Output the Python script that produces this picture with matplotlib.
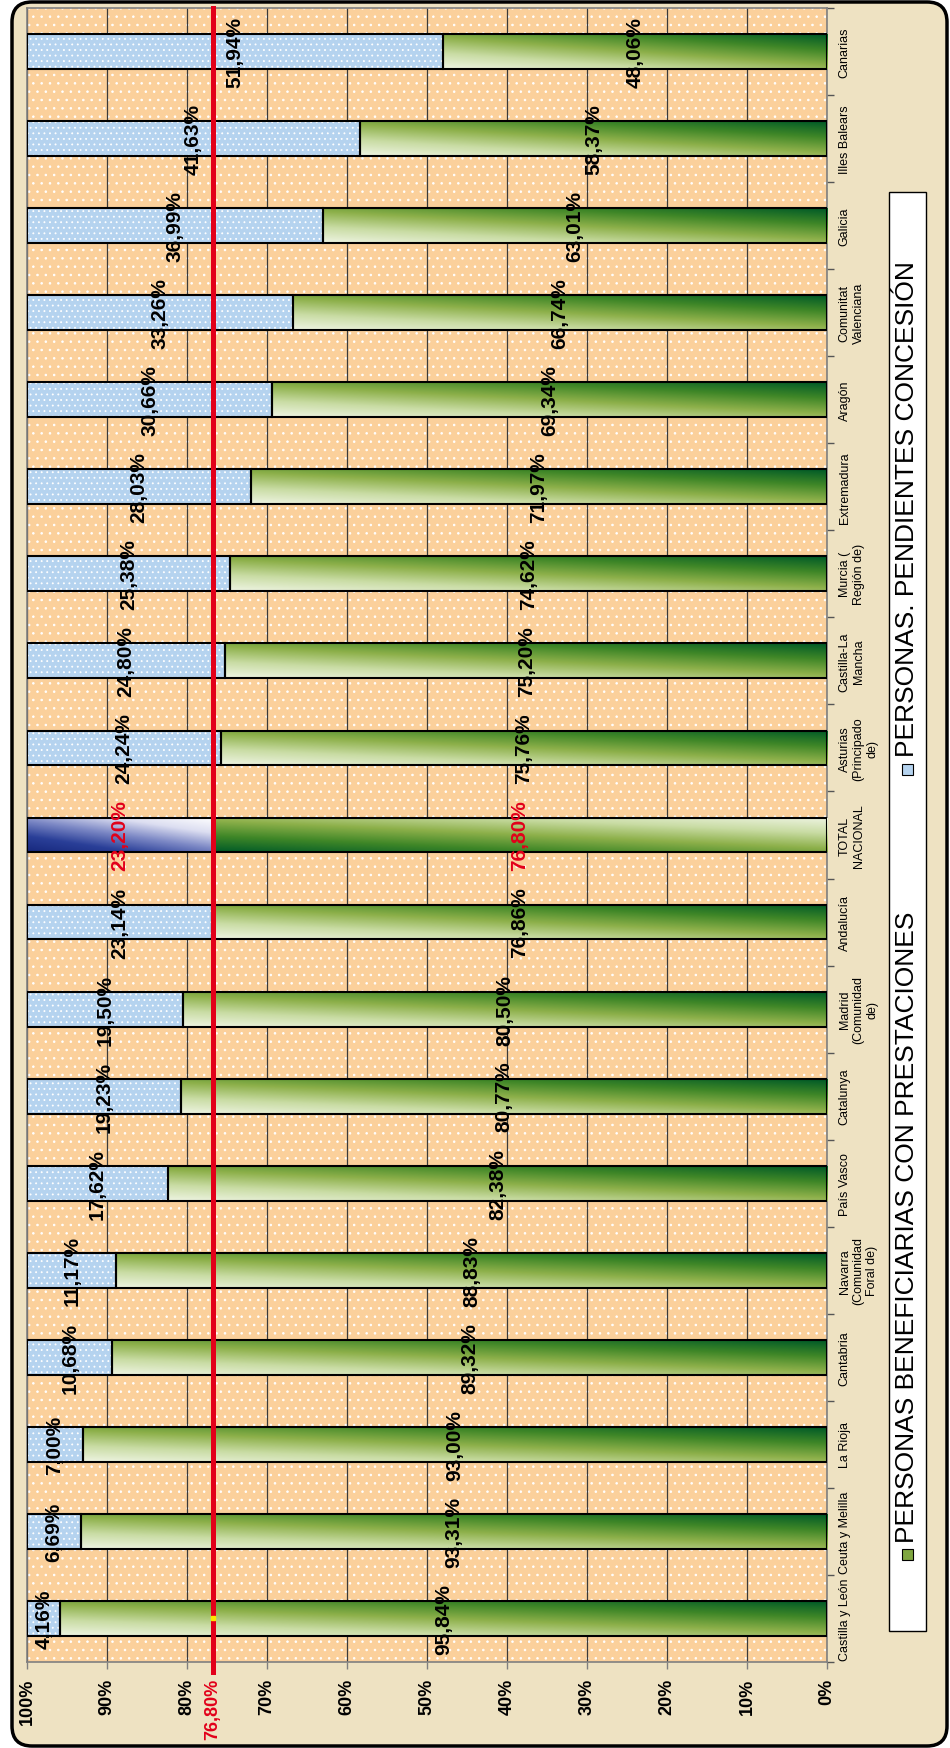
import numpy as np
import matplotlib
matplotlib.use('Agg')
import matplotlib.pyplot as plt
from matplotlib.colors import LinearSegmentedColormap
from matplotlib.patches import Rectangle, FancyBboxPatch

plt.rcParams['font.family'] = ['Liberation Sans', 'DejaVu Sans']
plt.rcParams['hatch.linewidth'] = 0.6
plt.rcParams['hatch.color'] = 'white'

# Datos por comunidad (de abajo a arriba en el grafico girado).
regiones = ['Castilla y León', 'Ceuta y Melilla', 'La Rioja', 'Cantabria',
            'Navarra\n(Comunidad\nForal de)', 'País Vasco', 'Catalunya',
            'Madrid\n(Comunidad\nde)', 'Andalucía', 'TOTAL\nNACIONAL',
            'Asturias\n(Principado\nde)', 'Castilla-La\nMancha', 'Murcia (\nRegión de)',
            'Extremadura', 'Aragón', 'Comunitat\nValenciana', 'Galicia',
            'Illes Balears', 'Canarias']
beneficiarias = [95.84, 93.31, 93.00, 89.32, 88.83, 82.38, 80.77, 80.50, 76.86, 76.80,
                 75.76, 75.20, 74.62, 71.97, 69.34, 66.74, 63.01, 58.37, 48.06]
pendientes = [4.16, 6.69, 7.00, 10.68, 11.17, 17.62, 19.23, 19.50, 23.14, 23.20,
              24.24, 24.80, 25.38, 28.03, 30.66, 33.26, 36.99, 41.63, 51.94]
media_nacional = 76.80
ticks_pct = list(range(0, 101, 10))
serie_verde = 'PERSONAS BENEFICIARIAS CON PRESTACIONES'
serie_azul = 'PERSONAS. PENDIENTES CONCESIÓN'

rojo = '#E2001A'
azul_claro = '#B5D3EF'
i_total = 9

verdes = LinearSegmentedColormap.from_list(
    'verdes', ['#005A27', '#3E8627', '#8DB04A', '#C9DCA4', '#EEF4E2'])
azules = LinearSegmentedColormap.from_list(
    'azules', ['#17287D', '#2A3F98', '#7C88C5', '#DCDEF1', '#FFFFFF'])


def pct(v):
    return f'{v:.2f}'.replace('.', ',') + '%'


def degradado(ax, rect, cmap, modo):
    # Relleno en degradado recortado a la barra
    x0, w = rect.get_x(), rect.get_width()
    y0, h = rect.get_y(), rect.get_height()
    a = np.linspace(0, 1, 300)[None, :]   # 0 a la izquierda, 1 a la derecha
    v = np.linspace(0, 1, 60)[:, None]    # 0 arriba, 1 abajo
    if modo == 'verde':
        s = 0.55 * v + 0.45 * (1 - a)
    elif modo == 'verde_total':
        s = 1 - (0.55 * v + 0.45 * (1 - a))
    else:
        s = 0.55 * (1 - v) + 0.45 * a
    im = ax.imshow(s, cmap=cmap, vmin=0, vmax=1, extent=(x0 + w, x0, y0, y0 + h),
                   origin='upper', aspect='auto', interpolation='bilinear', zorder=3)
    im.set_clip_path(rect)


fig = plt.figure(figsize=(9.5, 17.49), dpi=100, facecolor='white')

# Marco redondeado con fondo tipo pergamino
marco = FancyBboxPatch((0.12, 0.02), 9.35, 17.44, boxstyle='round,pad=0,rounding_size=0.2',
                       transform=fig.dpi_scale_trans, facecolor='#EEE2C2',
                       edgecolor='black', linewidth=2.5, zorder=0)
fig.add_artist(marco)

ax = fig.add_axes([27 / 950, 86 / 1749, 800 / 950, 1654 / 1749])
ax.set_facecolor('#FBD09B')
ax.add_patch(Rectangle((0, 0), 1, 1, transform=ax.transAxes, facecolor='#FBD09B',
                       edgecolor='white', hatch='..', linewidth=0, zorder=0))
for t in ticks_pct:
    ax.axvline(t, color='#3A3A3A', linewidth=0.9, zorder=1)

y = np.arange(len(regiones))
alto = 0.4

# Segmento verde (beneficiarias) desde 0%
barras_v = ax.barh(y, beneficiarias, height=alto, left=0, facecolor='none',
                   edgecolor='black', linewidth=1.5, zorder=4)
for i, rect in enumerate(barras_v):
    degradado(ax, rect, verdes, 'verde_total' if i == i_total else 'verde')

# Segmento azul (pendientes) a continuacion
fondo_azul = ax.barh(y, pendientes, height=alto, left=beneficiarias, facecolor=azul_claro,
                     edgecolor='white', hatch='...', linewidth=0, zorder=3)
fondo_azul[i_total].set_visible(False)
barras_a = ax.barh(y, pendientes, height=alto, left=beneficiarias, facecolor='none',
                   edgecolor='black', linewidth=1.5, zorder=4)
degradado(ax, barras_a[i_total], azules, 'azul')

# Etiquetas de valor
for i, (g, b) in enumerate(zip(beneficiarias, pendientes)):
    color = rojo if i == i_total else 'black'
    ax.text(g / 2, i, pct(g), rotation=90, ha='center', va='center', fontsize=15,
            fontweight='bold', color=color, zorder=6)
    ax.text(g + b / 2, i, pct(b), rotation=90, ha='center', va='center', fontsize=15,
            fontweight='bold', color=color, zorder=6)

# Linea de la media nacional
ax.axvline(media_nacional, ymin=-0.006, ymax=1, color=rojo, linewidth=3.6, zorder=5,
           clip_on=False)
ax.plot(media_nacional, 0, marker='s', markersize=2.5, color='#FFE600', zorder=6)

ax.set_xlim(100, 0)
ax.set_ylim(-0.5, len(regiones) - 0.5)

ax.set_xticks(ticks_pct + [media_nacional])
ax.set_xticklabels([f'{t}%' for t in ticks_pct] + [pct(media_nacional)], rotation=90,
                   fontsize=13, fontweight='bold')
ax.get_xticklabels()[-1].set_color(rojo)
ax.tick_params(axis='x', length=5, width=1, color='#7F7F7F', pad=6)

ax.yaxis.tick_right()
ax.set_yticks(y)
ax.set_yticklabels(regiones, rotation=90, fontsize=9, ha='left', va='center',
                   multialignment='center')
ax.set_yticks(np.arange(-0.5, len(regiones)), minor=True)
ax.tick_params(axis='y', which='major', length=0, pad=8.5)
ax.tick_params(axis='y', which='minor', length=5, width=1, color='#555555', direction='out')

for sp in ax.spines.values():
    sp.set_color('#808080')
    sp.set_linewidth(1.2)

# Leyenda vertical
fig.add_artist(Rectangle((8.89, 1.17), 0.37, 14.39, transform=fig.dpi_scale_trans,
                         facecolor='white', edgecolor='black', linewidth=1, zorder=2))
fig.add_artist(Rectangle((9.015, 1.885), 0.11, 0.11, transform=fig.dpi_scale_trans,
                         facecolor='#7FA640', edgecolor='black', linewidth=0.8, zorder=3))
fig.text(9.07, 2.06, serie_verde, transform=fig.dpi_scale_trans, rotation=90,
         ha='center', va='bottom', fontsize=19, zorder=3)
fig.add_artist(Rectangle((9.015, 9.735), 0.11, 0.11, transform=fig.dpi_scale_trans,
                         facecolor=azul_claro, edgecolor='black', linewidth=0.8, zorder=3))
fig.text(9.07, 9.92, serie_azul, transform=fig.dpi_scale_trans, rotation=90,
         ha='center', va='bottom', fontsize=19, zorder=3)

fig.savefig('out.png', dpi=100, facecolor='white')
